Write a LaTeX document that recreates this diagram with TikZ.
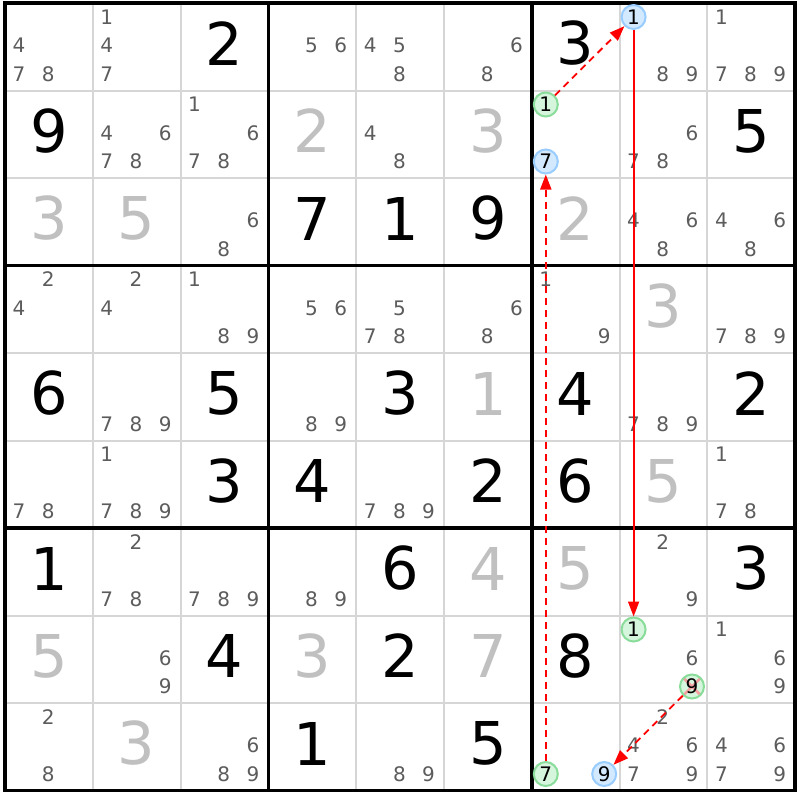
\documentclass[tikz,border=0pt]{standalone}
\usepackage{fontspec}
\setmainfont{DejaVu Sans}
\usetikzlibrary{arrows.meta}
\definecolor{candgray}{HTML}{5C5C5C}
\definecolor{solvedgray}{HTML}{C0C0C0}
\definecolor{thingray}{HTML}{D6D6D6}
\definecolor{bluefill}{HTML}{D2E9FF}
\definecolor{blueline}{HTML}{99CCFF}
\definecolor{greenfill}{HTML}{D6F5DD}
\definecolor{greenline}{HTML}{8ADC9A}
\definecolor{crosspink}{HTML}{F4A0A0}
\tikzset{
  given/.style={font=\fontsize{59}{59}\selectfont, inner sep=0pt},
  solved/.style={given, text=solvedgray},
  cand/.style={font=\fontsize{20}{20}\selectfont, text=candgray, inner sep=0pt},
  onpt/.style={circle, draw=blueline, fill=bluefill, line width=2pt, minimum size=24pt, inner sep=0pt, font=\fontsize{20}{20}\selectfont},
  offpt/.style={onpt, draw=greenline, fill=greenfill},
  crossedoff/.style={offpt, path picture={\draw[crosspink, line width=2.5pt] (path picture bounding box.north west) -- (path picture bounding box.south east) (path picture bounding box.north east) -- (path picture bounding box.south west);}},
  link/.style={red, line width=1.8pt, -{Triangle[length=15pt,width=11pt]}},
  weaklink/.style={link, dash pattern=on 7pt off 5pt},
}

\begin{document}
\begin{tikzpicture}[x=1pt, y=-1pt]
    \useasboundingbox (0,0) rectangle (800,800);
    \fill[white] (0,0) rectangle (800,800);

    \foreach \i in {1,2,4,5,7,8} {
        \draw[thingray, line width=2pt] ({5+\i*87.8},3) -- ({5+\i*87.8},790.5);
        \draw[thingray, line width=2pt] (5,{3+\i*87.5}) -- (795,{3+\i*87.5});
    }
    \foreach \i in {3,6} {
        \draw[line width=3.5pt] ({5+\i*87.8},3) -- ({5+\i*87.8},790.5);
        \draw[line width=3.5pt] (5,{3+\i*87.5}) -- (795,{3+\i*87.5});
    }
    \draw[line width=3.5pt] (5,3) rectangle (795,790.5);

    \foreach \r/\c/\v in {1/3/2, 1/7/3, 2/1/9, 2/9/5, 3/4/7, 3/5/1, 3/6/9, 5/1/6, 5/3/5, 5/5/3, 5/7/4, 5/9/2, 6/3/3, 6/4/4, 6/6/2, 6/7/6, 7/1/1, 7/5/6, 7/9/3, 8/3/4, 8/5/2, 8/7/8, 9/4/1, 9/6/5}
        \node[given] (g\r\c) at ({5+(\c-1)*87.8+43.9},{3+(\r-1)*87.5+40.5}) {\v};

    \foreach \r/\c/\v in {2/4/2, 2/6/3, 3/1/3, 3/2/5, 3/7/2, 4/8/3, 5/6/1, 6/8/5, 7/6/4, 7/7/5, 8/1/5, 8/4/3, 8/6/7, 9/2/3}
        \node[solved] (s\r\c) at ({5+(\c-1)*87.8+43.9},{3+(\r-1)*87.5+40.5}) {\v};

    \foreach \r/\c/\ds in {1/1/{4,7,8}, 1/2/{1,4,7}, 1/4/{5,6}, 1/5/{4,5,8}, 1/6/{6,8}, 1/8/{8,9}, 1/9/{1,7,8,9},
        2/2/{4,6,7,8}, 2/3/{1,6,7,8}, 2/5/{4,8}, 2/8/{6,7,8},
        3/3/{6,8}, 3/8/{4,6,8}, 3/9/{4,6,8},
        4/1/{2,4}, 4/2/{2,4}, 4/3/{1,8,9}, 4/4/{5,6}, 4/5/{5,7,8}, 4/6/{6,8}, 4/7/{1,9}, 4/9/{7,8,9},
        5/2/{7,8,9}, 5/4/{8,9}, 5/8/{7,8,9},
        6/1/{7,8}, 6/2/{1,7,8,9}, 6/5/{7,8,9}, 6/9/{1,7,8},
        7/2/{2,7,8}, 7/3/{7,8,9}, 7/4/{8,9}, 7/8/{2,9},
        8/2/{6,9}, 8/8/{6}, 8/9/{1,6,9},
        9/1/{2,8}, 9/3/{6,8,9}, 9/5/{8,9}, 9/8/{2,4,6,7,9}, 9/9/{4,6,7,9}}
        \foreach \d in \ds
            \node[cand] (c\r\c\d) at ({5+(\c-1)*87.8+14+mod(\d-1,3)*29.2},{3+(\r-1)*87.5+14+floor((\d-1)/3)*28.5}) {\d};

    \foreach \r/\c/\d/\s/\n in {1/8/1/onpt/top1, 2/7/1/offpt/mid1, 2/7/7/onpt/mid7, 9/7/7/offpt/bot7, 9/7/9/onpt/bot9, 8/8/1/offpt/end1, 8/8/9/crossedoff/end9}
        \node[\s] (\n) at ({5+(\c-1)*87.8+14+mod(\d-1,3)*29.2},{3+(\r-1)*87.5+14+floor((\d-1)/3)*28.5}) {\d};

    \draw[weaklink] (mid1) -- (top1);
    \draw[link] (top1) -- (end1);
    \draw[weaklink] (bot7) -- (mid7);
    \draw[weaklink] (end9) -- (bot9);
\end{tikzpicture}
\end{document}
